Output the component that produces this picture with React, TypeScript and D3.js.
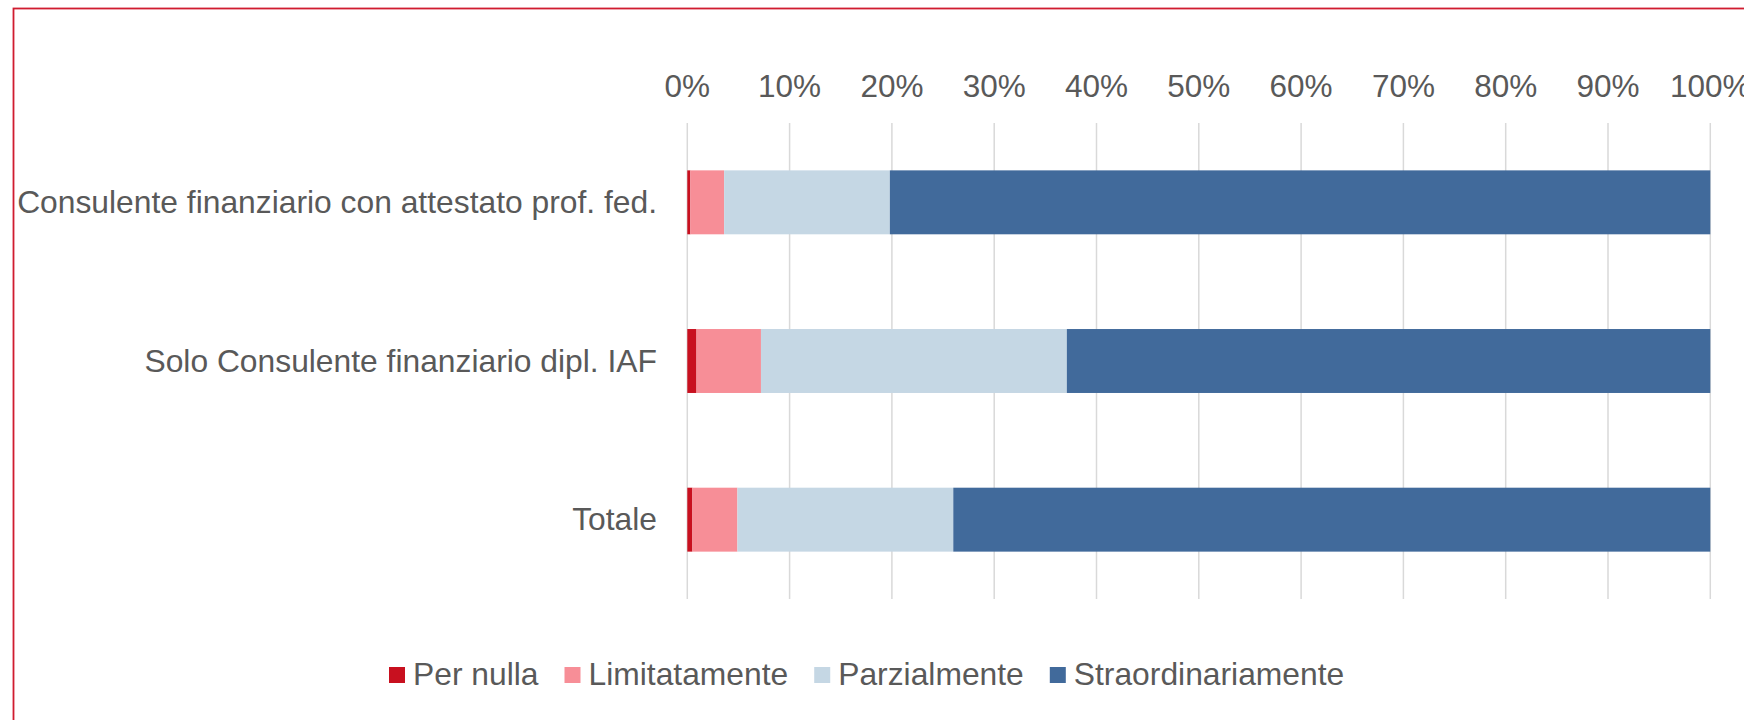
import React, { useEffect, useRef } from 'react';
import * as d3 from 'd3';

// categories top to bottom
const categories: string[] = [
  'Consulente finanziario con attestato prof. fed.',
  'Solo Consulente finanziario dipl. IAF',
  'Totale',
];

const seriesNames: string[] = ['Per nulla', 'Limitatamente', 'Parzialmente', 'Straordinariamente'];

// share (%) per category, same order as categories
const perNulla: number[] = [0.3, 0.9, 0.5];
const limitatamente: number[] = [3.3, 6.3, 4.4];
const parzialmente: number[] = [16.2, 29.9, 21.1];
const straordinariamente: number[] = [80.2, 62.9, 74.0];

const tickValues: number[] = [0, 10, 20, 30, 40, 50, 60, 70, 80, 90, 100];

const colors = ['#c8101f', '#f78e97', '#c5d7e4', '#416a9b'];
const textColor = '#595959';
const font = '"Liberation Sans", Arial, sans-serif';

const App = () => {
  const ref = useRef<SVGSVGElement>(null);

  useEffect(() => {
    document.body.style.margin = '0';
    if (!ref.current) return;

    const svg = d3.select(ref.current);
    svg.selectAll('*').remove();

    const rows = categories.map((c, i) => ({
      cat: c,
      'Per nulla': perNulla[i],
      Limitatamente: limitatamente[i],
      Parzialmente: parzialmente[i],
      Straordinariamente: straordinariamente[i],
    }));

    const stacked = d3.stack<any>().keys(seriesNames)(rows);

    const x = d3.scaleLinear().domain([0, 100]).range([687.3, 1710.3]);
    const y = d3
      .scaleBand()
      .domain(categories)
      .range([123, 599])
      .paddingInner(0.597)
      .paddingOuter(0.2985);

    // border (right and bottom edges fall outside the picture)
    svg
      .append('rect')
      .attr('x', 13.5)
      .attr('y', 8.5)
      .attr('width', 1800)
      .attr('height', 800)
      .attr('fill', 'none')
      .attr('stroke', '#d01c30')
      .attr('stroke-width', 1.8);

    // gridlines
    svg
      .append('g')
      .selectAll('line')
      .data(tickValues)
      .join('line')
      .attr('x1', d => x(d))
      .attr('x2', d => x(d))
      .attr('y1', 123)
      .attr('y2', 599)
      .attr('stroke', '#d9d9d9')
      .attr('stroke-width', 1.5);

    // tick labels on top
    svg
      .append('g')
      .selectAll('text')
      .data(tickValues)
      .join('text')
      .attr('x', d => x(d))
      .attr('y', 96.5)
      .attr('text-anchor', 'middle')
      .attr('font-family', font)
      .attr('font-size', 31.5)
      .attr('fill', textColor)
      .text(d => `${d}%`);

    // bars
    svg
      .append('g')
      .selectAll('g')
      .data(stacked)
      .join('g')
      .attr('fill', (_d, i) => colors[i])
      .selectAll('rect')
      .data(d => d)
      .join('rect')
      .attr('x', d => x(d[0]))
      .attr('width', d => x(d[1]) - x(d[0]))
      .attr('y', d => y(d.data.cat) as number)
      .attr('height', y.bandwidth());

    // category labels
    svg
      .append('g')
      .selectAll('text')
      .data(categories)
      .join('text')
      .attr('x', 657)
      .attr('y', d => (y(d) as number) + y.bandwidth() / 2)
      .attr('dy', '0.34em')
      .attr('text-anchor', 'end')
      .attr('font-family', font)
      .attr('font-size', 31.8)
      .attr('fill', textColor)
      .text(d => d);

    // legend
    const legend = svg.append('g');
    let lx = 389;
    seriesNames.forEach((name, i) => {
      legend
        .append('rect')
        .attr('x', lx)
        .attr('y', 667)
        .attr('width', 16)
        .attr('height', 16)
        .attr('fill', colors[i]);
      const t = legend
        .append('text')
        .attr('x', lx + 24)
        .attr('y', 684.5)
        .attr('font-family', font)
        .attr('font-size', 31.8)
        .attr('fill', textColor)
        .text(name);
      const w = (t.node() as SVGTextElement).getComputedTextLength();
      lx = lx + 24 + w + 26;
    });
  }, []);

  return (
    <svg
      ref={ref}
      width={1744}
      height={720}
      style={{ display: 'block', background: '#ffffff', overflow: 'hidden' }}
    />
  );
};

export default App;
